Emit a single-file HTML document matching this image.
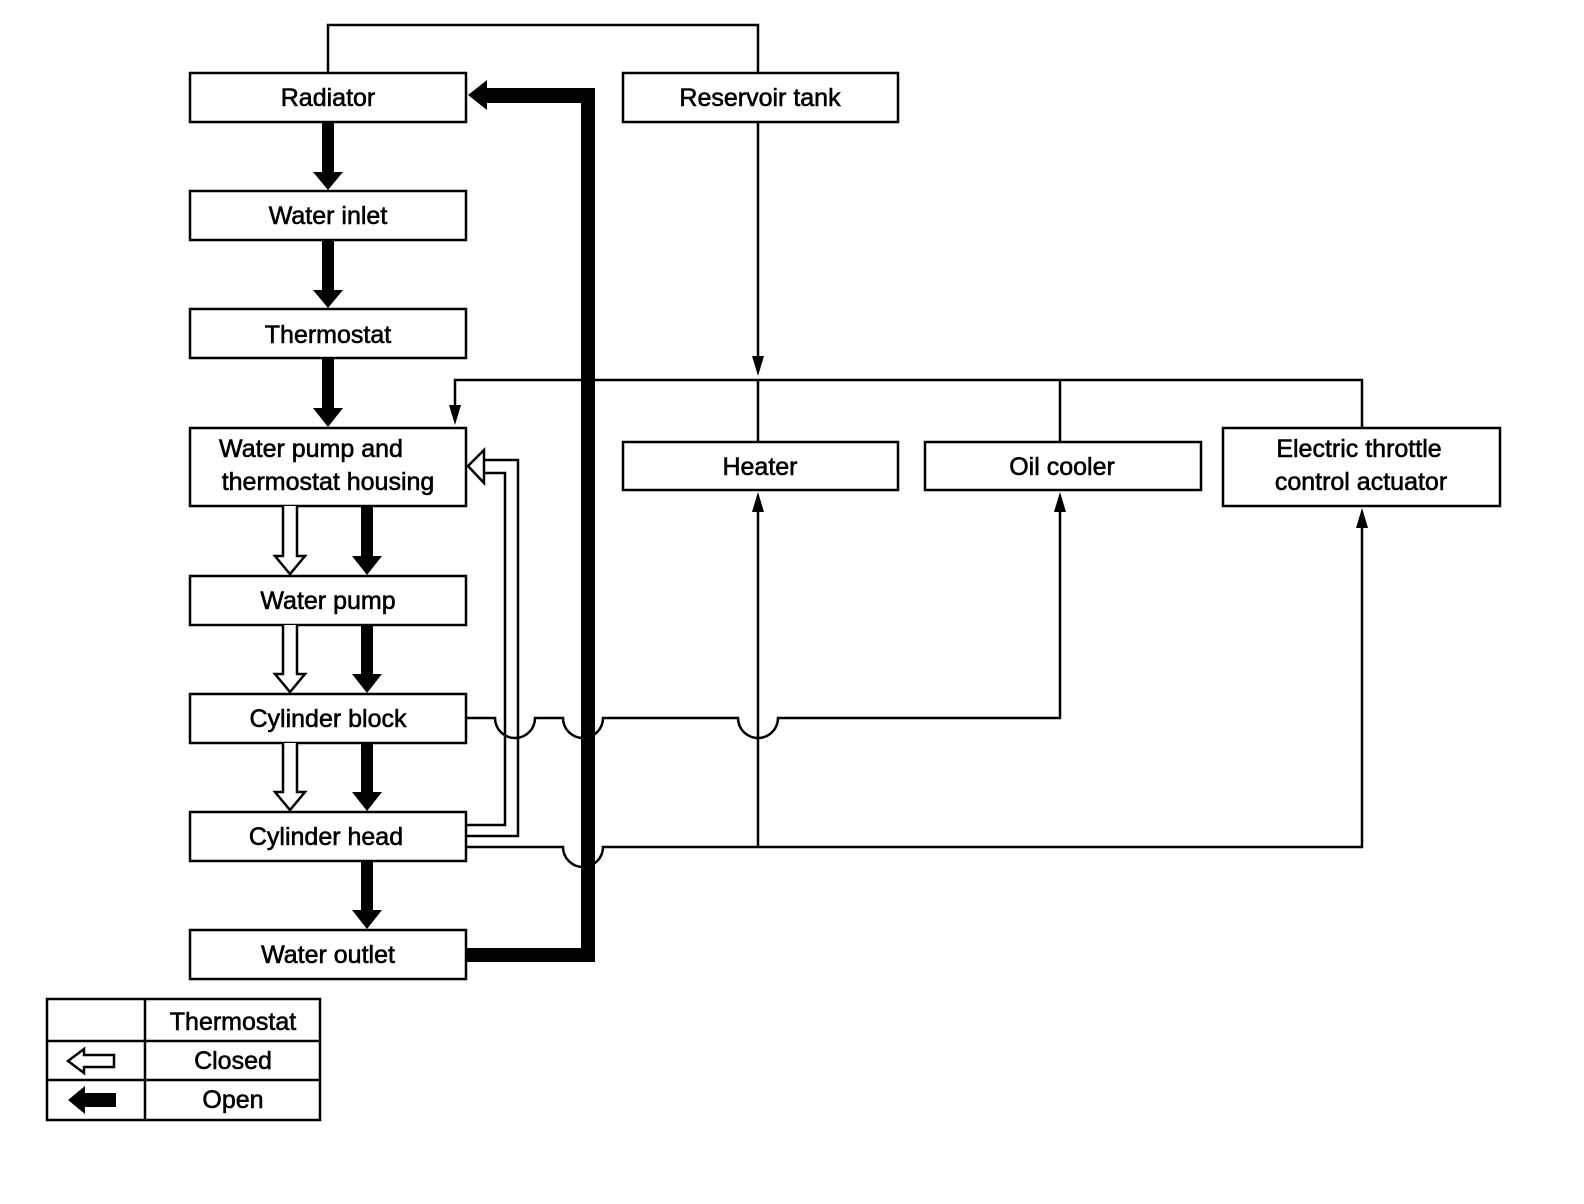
<!DOCTYPE html>
<html><head><meta charset="utf-8"><style>
html,body{margin:0;padding:0;background:#fff}
svg{display:block}
text{font-family:"Liberation Sans",sans-serif;font-size:25px;fill:#000;stroke:#000;stroke-width:0.6}
</style></head><body>
<svg width="1584" height="1204" viewBox="0 0 1584 1204" xmlns="http://www.w3.org/2000/svg">
<g fill="none" stroke="#000" stroke-width="2.5">
<rect x="190" y="73" width="276" height="49"/>
<rect x="190" y="191" width="276" height="49"/>
<rect x="190" y="309" width="276" height="49"/>
<rect x="190" y="428" width="276" height="78"/>
<rect x="190" y="576" width="276" height="49"/>
<rect x="190" y="694" width="276" height="49"/>
<rect x="190" y="812" width="276" height="49"/>
<rect x="190" y="930" width="276" height="49"/>
<rect x="623" y="73" width="275" height="49"/>
<rect x="623" y="442" width="275" height="48"/>
<rect x="925" y="442" width="276" height="48"/>
<rect x="1223" y="428" width="277" height="78"/>
<polyline points="328,73 328,25 758,25 758,73"/>
<line x1="758" y1="122" x2="758" y2="362"/>
<polyline points="455,410 455,380 1362,380 1362,428"/>
<line x1="758" y1="380" x2="758" y2="442"/>
<line x1="1060" y1="380" x2="1060" y2="442"/>
<path d="M466,718 H495 A20,20 0 0 0 535,718 H563 A20,20 0 0 0 603,718 H738 A20,20 0 0 0 778,718 H1060 V508"/>
<path d="M466,847 H563 A20,20 0 0 0 603,847 H1362 V526"/>
<line x1="758" y1="847" x2="758" y2="510"/>
<polyline points="466,825 505,825 505,473 484,473"/>
<polyline points="466,836 518,836 518,460 484,460"/>
</g>
<g fill="#000">
<polygon points="752,356 764,356 758,376"/>
<polygon points="449,405 461,405 455,425"/>
<polygon points="752,512 764,512 758,492"/>
<polygon points="1054,512 1066,512 1060,492"/>
<polygon points="1356,528 1368,528 1362,508"/>
</g>
<polygon points="484,450 468,466 484,483" fill="#fff" stroke="#000" stroke-width="2.5"/>
<g fill="#000">
<rect x="322" y="122" width="12" height="53"/><polygon points="313,172 343,172 328,190"/>
<rect x="322" y="240" width="12" height="53"/><polygon points="313,290 343,290 328,308"/>
<rect x="322" y="358" width="12" height="53"/><polygon points="313,408 343,408 328,427"/>
<rect x="361" y="506" width="12" height="53"/><polygon points="352,556 382,556 367,575"/>
<rect x="361" y="625" width="12" height="53"/><polygon points="352,674 382,674 367,693"/>
<rect x="361" y="743" width="12" height="53"/><polygon points="352,792 382,792 367,811"/>
<rect x="361" y="861" width="12" height="53"/><polygon points="352,910 382,910 367,929"/>
<rect x="466" y="948" width="129" height="14"/>
<rect x="581" y="88" width="14" height="874"/>
<rect x="486" y="88" width="109" height="15"/>
<polygon points="487,80 487,110 468,95"/>
</g>
<g fill="#fff" stroke="#000" stroke-width="2.5">
<path d="M283,506 V556 H275 L290,574 L305,556 H297 V506"/>
<path d="M283,625 V674 H275 L290,692 L305,674 H297 V625"/>
<path d="M283,743 V792 H275 L290,810 L305,792 H297 V743"/>
</g>
<g text-anchor="middle">
<text x="328" y="106">Radiator</text>
<text x="328" y="224">Water inlet</text>
<text x="328" y="343">Thermostat</text>
<text x="311" y="457">Water pump and</text>
<text x="328" y="490">thermostat housing</text>
<text x="328" y="609">Water pump</text>
<text x="328" y="727">Cylinder block</text>
<text x="326" y="845">Cylinder head</text>
<text x="328" y="963">Water outlet</text>
<text x="760" y="106">Reservoir tank</text>
<text x="760" y="475">Heater</text>
<text x="1062" y="475">Oil cooler</text>
<text x="1359" y="457">Electric throttle</text>
<text x="1361" y="490">control actuator</text>
<text x="233" y="1030">Thermostat</text>
<text x="233" y="1069">Closed</text>
<text x="233" y="1108">Open</text>
</g>
<g fill="none" stroke="#000" stroke-width="2.5">
<rect x="47" y="999" width="273" height="121"/>
<line x1="145" y1="999" x2="145" y2="1120"/>
<line x1="47" y1="1041" x2="320" y2="1041"/>
<line x1="47" y1="1080" x2="320" y2="1080"/>
<path d="M114,1055 H84 V1049 L68,1061 L84,1073 V1067 H114 Z" fill="#fff"/>
</g>
<path d="M116,1093 H85 V1086 L68,1100 L85,1114 V1107 H116 Z" fill="#000"/>
</svg>
</body></html>
